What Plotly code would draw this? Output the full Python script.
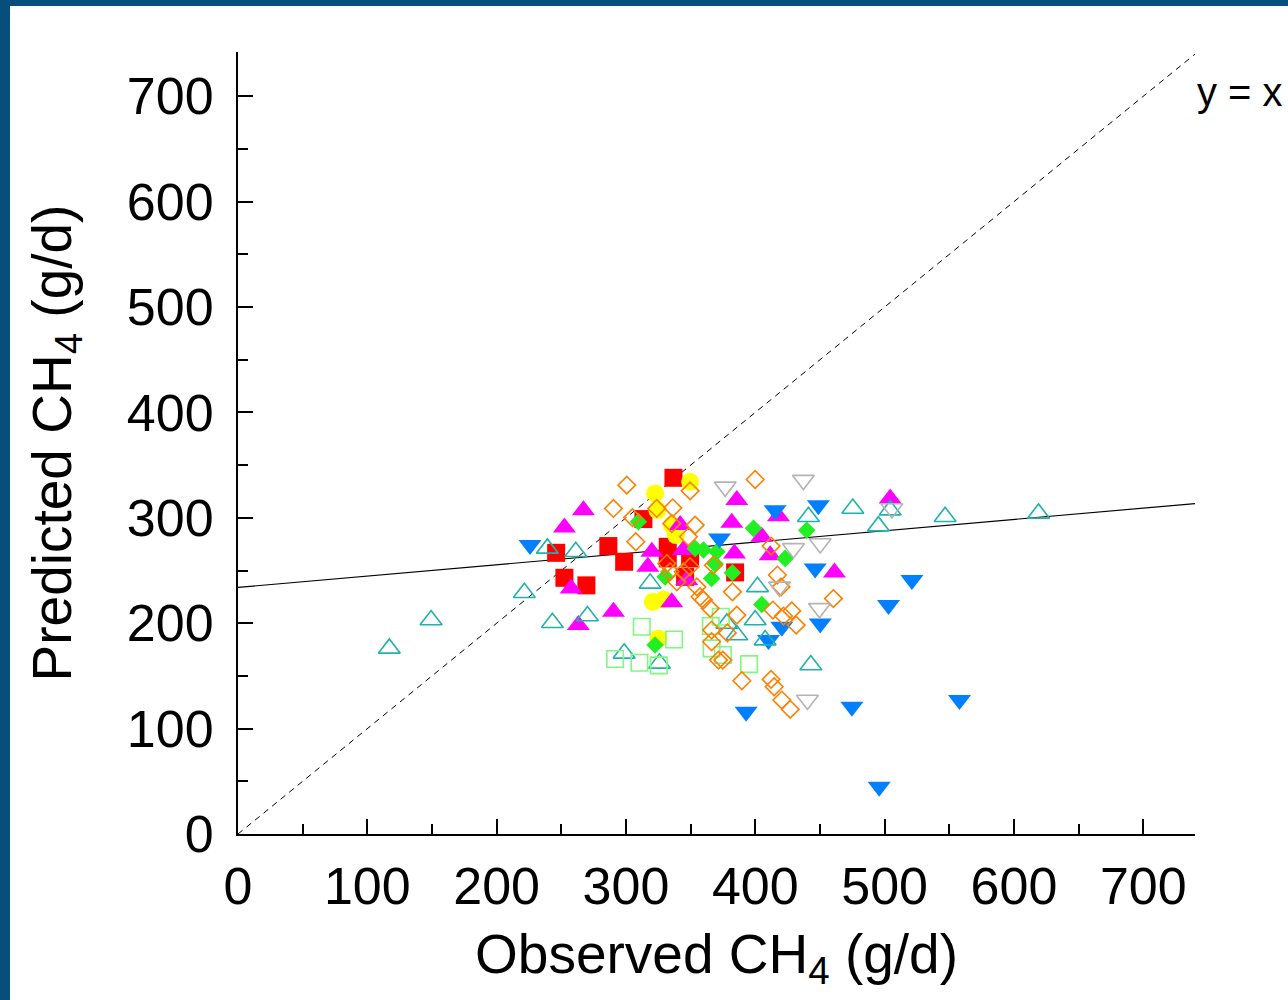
import plotly.graph_objects as go

# Observed vs predicted methane (g/d), one array pair per data source
red_x = [246.0, 252.4, 269.4, 286.4, 298.6, 313.5, 336.7, 332.3, 332.3, 349.6, 345.7, 384.4]
red_y = [266.8, 243.1, 235.9, 273.2, 258.3, 298.8, 338.0, 272.5, 261.5, 261.5, 244.0, 248.2]

yellow_x = [349.6, 322.5, 324.3, 335.4, 338.6, 320.7, 329.0, 325.1]
yellow_y = [334.2, 323.2, 307.3, 293.1, 283.6, 220.3, 222.6, 185.6]

magenta_x = [267.1, 252.4, 320.0, 316.9, 257.6, 290.3, 263.2, 335.4, 344.4, 341.9, 347.0,
             385.7, 381.8, 417.9, 405.0, 411.5, 383.9, 504.3, 461.2]
magenta_y = [307.3, 290.9, 267.8, 253.6, 233.0, 210.9, 198.2, 219.8, 269.4, 293.1, 241.0,
             316.8, 295.3, 301.6, 282.0, 264.6, 266.2, 318.4, 248.2]

green_x = [309.6, 353.5, 359.9, 330.3, 366.2, 322.5, 398.6, 439.8, 423.1, 370.2, 368.9,
           382.3, 405.0]
green_y = [296.2, 271.0, 269.4, 244.0, 242.5, 179.3, 290.0, 288.3, 261.5, 267.8, 256.1,
           247.8, 217.8]

blue_x = [225.8, 415.3, 448.8, 372.3, 446.3, 521.1, 503.0, 450.2, 420.5, 410.2, 392.9,
          474.7, 557.9, 495.8]
blue_y = [274.1, 307.3, 312.0, 280.5, 252.0, 241.0, 217.2, 199.8, 196.6, 184.0, 116.0,
          120.8, 127.1, 44.9]

teal_x = [149.3, 117.0, 239.2, 261.2, 221.4, 243.1, 270.2, 318.7, 298.6, 325.9, 401.7,
          399.9, 378.0, 385.7, 407.6, 441.1, 475.4, 495.2, 504.3, 546.8, 442.9, 619.0]
teal_y = [203.0, 176.1, 271.0, 267.8, 228.9, 200.4, 206.8, 237.8, 171.4, 161.9, 234.5,
          203.0, 199.8, 188.8, 184.0, 301.0, 308.9, 292.1, 307.3, 301.0, 160.3, 304.2]

orange_x = [300.6, 290.3, 305.0, 307.6, 323.8, 336.2, 349.6, 353.5, 335.4, 331.6, 334.1,
            348.3, 349.6, 344.4, 339.3, 354.8, 357.3, 365.1, 359.9, 366.2, 366.2, 371.5,
            399.9, 367.6, 382.3, 385.7, 378.4, 417.1, 419.9, 413.6, 421.8, 428.2, 431.6,
            412.2, 389.6, 412.2, 414.6, 420.5, 427.0, 460.4, 374.9]
orange_y = [331.0, 308.9, 300.2, 277.3, 308.9, 309.5, 325.6, 293.1, 294.5, 256.6, 248.8,
            282.0, 253.6, 248.8, 239.3, 234.5, 225.1, 214.1, 222.0, 193.5, 182.4, 165.0,
            336.4, 255.1, 229.8, 207.7, 190.8, 245.7, 234.5, 212.5, 206.8, 211.7, 198.2,
            273.2, 145.4, 146.7, 139.7, 127.1, 118.3, 223.4, 165.0]

lgreen_x = [312.2, 337.2, 291.6, 310.4, 325.4, 365.6, 366.2, 373.3, 374.9, 395.2]
lgreen_y = [196.6, 184.6, 166.0, 162.5, 160.0, 197.3, 176.1, 206.1, 169.8, 161.2]

gray_x = [376.7, 437.2, 450.2, 429.5, 418.7, 449.6, 440.3, 505.6]
gray_y = [329.4, 335.8, 275.7, 271.0, 234.5, 214.1, 127.1, 308.9]

# Reference lines
identity = [0, 740]
fit_x = [0, 740]
fit_y = [234.0, 313.5]

AXIS_MAX_X = 740
AXIS_MAX_Y = 742

fig = go.Figure()

fig.add_trace(go.Scatter(x=identity, y=identity, mode="lines",
                         line=dict(color="black", width=1, dash="6px,5px")))
fig.add_trace(go.Scatter(x=fit_x, y=fit_y, mode="lines",
                         line=dict(color="black", width=1.2)))


def pts(x, y, symbol, size, color, filled=True, lw=1.6):
    if filled:
        marker = dict(symbol=symbol, size=size, color=color, line=dict(width=0))
    else:
        marker = dict(symbol=symbol + "-open", size=size, color=color,
                      line=dict(width=lw, color=color))
    fig.add_trace(go.Scatter(x=x, y=y, mode="markers", marker=marker))


pts(red_x, red_y, "square", 18, "#ff0000")
pts(yellow_x, yellow_y, "circle", 18, "#ffff00")
pts(magenta_x, magenta_y, "triangle-up", 20, "#ff00ff")
pts(green_x, green_y, "diamond", 13.5, "#22ee22")
pts(blue_x, blue_y, "triangle-down", 20, "#0080ff")
pts(teal_x, teal_y, "triangle-up", 19, "#20b2aa", filled=False)
pts(lgreen_x, lgreen_y, "square", 16.5, "#7dfa7d", filled=False)
pts(orange_x, orange_y, "diamond", 13.5, "#ff8000", filled=False)
pts(gray_x, gray_y, "triangle-down", 19, "#b4b4b4", filled=False)

L, R, T, B = 238, 93, 52, 166
PW = 1288 - L - R
PH = 1000 - T - B

axis_common = dict(
    showgrid=False, zeroline=False, showline=True, linecolor="black", linewidth=2,
    ticks="inside", ticklen=15, tickwidth=2, tickcolor="black", dtick=100, tick0=0,
    minor=dict(ticks="inside", ticklen=10, tickwidth=2, tickcolor="black", dtick=50),
    tickfont=dict(family="Liberation Sans, Arial", size=52, color="black"),
)

fig.update_layout(
    width=1288, height=1000,
    margin=dict(l=L, r=R, t=T, b=B),
    paper_bgcolor="white", plot_bgcolor="white",
    showlegend=False,
    font=dict(family="Liberation Sans, Arial", color="black"),
    xaxis=dict(range=[0, AXIS_MAX_X], ticklabelstandoff=6,
               title=dict(text="Observed CH<sub>4</sub> (g/d)",
                          font=dict(size=55), standoff=20),
               **axis_common),
    yaxis=dict(range=[0, AXIS_MAX_Y], ticklabelstandoff=12,
               title=dict(text="Predicted CH<sub>4</sub> (g/d)",
                          font=dict(size=55), standoff=38),
               **axis_common),
    annotations=[dict(x=AXIS_MAX_X, y=704, xref="x", yref="y", text="y = x",
                      showarrow=False, xanchor="left", yanchor="middle",
                      font=dict(size=40, color="black"))],
    shapes=[
        # dark blue frame along the left and top edges of the page
        dict(type="rect", xref="paper", yref="paper", layer="above",
             x0=-L / PW, x1=(10 - L) / PW, y0=-B / PH, y1=1 + T / PH,
             fillcolor="#064f7c", line=dict(width=0)),
        dict(type="rect", xref="paper", yref="paper", layer="above",
             x0=-L / PW, x1=1 + R / PW, y0=1 + (T - 6) / PH, y1=1 + T / PH,
             fillcolor="#064f7c", line=dict(width=0)),
    ],
)

fig.write_html("out.html")
